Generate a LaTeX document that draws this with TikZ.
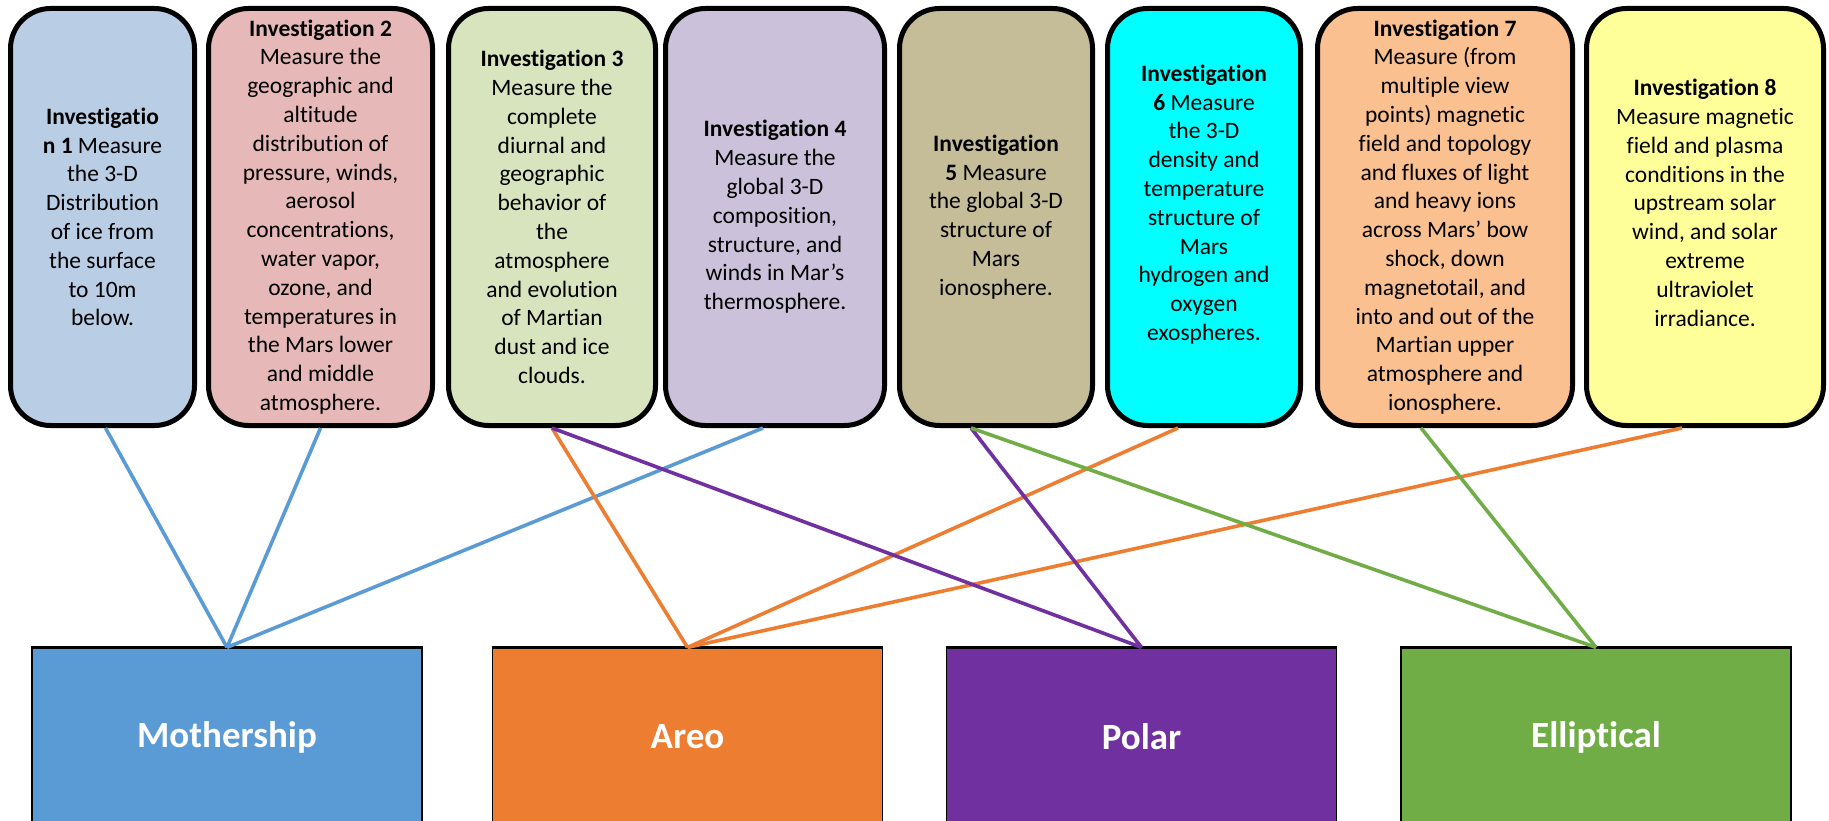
\documentclass[tikz,border=0pt]{standalone}
\usepackage{fontspec}
\setmainfont{Carlito}[Ligatures=NoCommon]
\usepackage{xcolor}
\usepackage{tikz}
\usetikzlibrary{positioning}

\definecolor{invone}{HTML}{B9CDE5}
\definecolor{invtwo}{HTML}{E6B9B8}
\definecolor{invthree}{HTML}{D7E4BD}
\definecolor{invfour}{HTML}{CCC1DA}
\definecolor{invfive}{HTML}{C4BD97}
\definecolor{invsix}{HTML}{00FFFF}
\definecolor{invseven}{HTML}{FAC090}
\definecolor{inveight}{HTML}{FFFF99}
\definecolor{mothblue}{HTML}{5B9BD5}
\definecolor{areoorange}{HTML}{ED7D31}
\definecolor{polarpurple}{HTML}{7030A0}
\definecolor{ellgreen}{HTML}{70AD47}

\begin{document}
\begin{tikzpicture}[x=1pt, y=-1pt,
	invbox/.style={draw, line width=5pt, rounded corners=40pt, inner sep=0pt,
		align=center, minimum height=417pt, font=\fontsize{23.5}{28.8}\selectfont},
	orbbox/.style={draw, line width=1.2pt, inner sep=0pt, minimum width=390pt,
		minimum height=178pt, text=white, font=\fontsize{37}{44}\selectfont\bfseries},
	link/.style={line width=3.6pt}]
			\useasboundingbox (0,0) rectangle (1829,821);

			%% Investigations
			\node[invbox, fill=invone, minimum width=184pt] (inv1) at (102.5,217)
				{\textbf{Investigatio}\\\textbf{n 1} Measure\\the 3-D\\Distribution\\of ice from\\the surface\\to 10m\\below.};
			\node[invbox, fill=invtwo, minimum width=224pt] (inv2) at (320.5,217)
				{\textbf{Investigation 2}\\Measure the\\geographic and\\altitude\\distribution of\\pressure, winds,\\aerosol\\concentrations,\\water vapor,\\ozone, and\\temperatures in\\the Mars lower\\and middle\\atmosphere.};
			\node[invbox, fill=invthree, minimum width=207pt] (inv3) at (552,217)
				{\textbf{Investigation 3}\\Measure the\\complete\\diurnal and\\geographic\\behavior of\\the\\atmosphere\\and evolution\\of Martian\\dust and ice\\clouds.};
			\node[invbox, fill=invfour, minimum width=219pt] (inv4) at (775,217)
				{\textbf{Investigation 4}\\Measure the\\global 3-D\\composition,\\structure, and\\winds in Mar’s\\thermosphere.};
			\node[invbox, fill=invfive, minimum width=193pt] (inv5) at (996,217)
				{\textbf{Investigation}\\\textbf{5} Measure\\the global 3-D\\structure of\\Mars\\ionosphere.};
			\node[invbox, fill=invsix, minimum width=193pt] (inv6) at (1204,217)
				{\textbf{Investigation}\\\textbf{6} Measure\\the 3-D\\density and\\temperature\\structure of\\Mars\\hydrogen and\\oxygen\\exospheres.\\\mbox{}};
			\node[invbox, fill=invseven, minimum width=255pt] (inv7) at (1445,217)
				{\textbf{Investigation 7}\\Measure (from\\multiple view\\points) magnetic\\field and topology\\and fluxes of light\\and heavy ions\\across Mars’ bow\\shock, down\\magnetotail, and\\into and out of the\\Martian upper\\atmosphere and\\ionosphere.};
			\node[invbox, fill=inveight, minimum width=237pt] (inv8) at (1705,217)
				{\textbf{Investigation 8}\\Measure magnetic\\field and plasma\\conditions in the\\upstream solar\\wind, and solar\\extreme\\ultraviolet\\irradiance.\\\mbox{}};

			%% Orbiters
			\node[orbbox, fill=mothblue] (moth) at (227,737) {Mothership};
			\node[orbbox, fill=areoorange] (areo) at (687.5,737) {Areo};
			\node[orbbox, fill=polarpurple] (polar) at (1141.5,737) {Polar};
			\node[orbbox, fill=ellgreen] (ellip) at (1596,737) {Elliptical};
			\foreach \orb in {moth, areo, polar, ellip}
				\draw[line width=3pt] (\orb.north west) -- (\orb.north east);

			%% Mothership
			\draw[link, mothblue] ([xshift=3pt]inv1.south) -- (moth.north);
			\draw[link, mothblue] (inv2.south) -- (moth.north);
			\draw[link, mothblue] ([xshift=-12pt]inv4.south) -- (moth.north);

			%% Areo
			\draw[link, areoorange] (inv3.south) -- (areo.north);
			\draw[link, areoorange] ([xshift=-26pt]inv6.south) -- (areo.north);
			\draw[link, areoorange] ([xshift=-23pt]inv8.south) -- (areo.north);

			%% Polar
			\draw[link, polarpurple] (inv3.south) -- (polar.north);
			\draw[link, polarpurple] ([xshift=-25pt]inv5.south) -- (polar.north);

			%% Elliptical
			\draw[link, ellgreen] ([xshift=-25pt]inv5.south) -- (ellip.north);
			\draw[link, ellgreen] ([xshift=-24pt]inv7.south) -- (ellip.north);
		\end{tikzpicture}
\end{document}
